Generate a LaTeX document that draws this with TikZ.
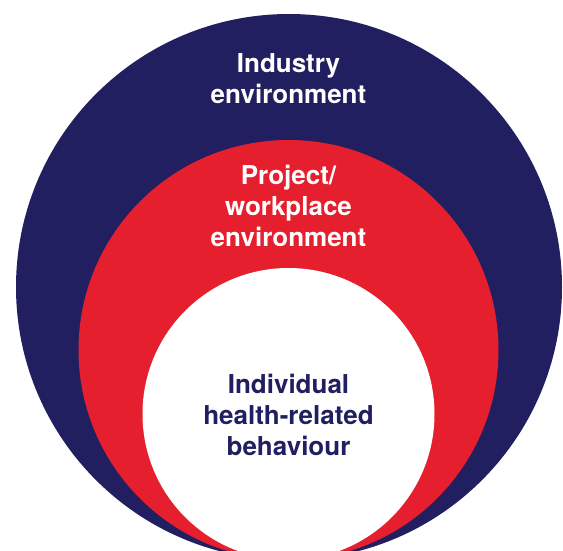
\documentclass[tikz,border=0pt]{standalone}
\usepackage{fontspec}
\setmainfont{TeX Gyre Heros}
\definecolor{ringnavy}{RGB}{34,31,96}
\definecolor{ringred}{RGB}{229,31,45}
\begin{document}
\begin{tikzpicture}[x=1pt,y=-1pt,
  label/.style={font=\fontsize{26}{31}\selectfont\bfseries, align=center,
    inner sep=0pt, anchor=base}]
\useasboundingbox (0,0) rectangle (563,550);
\begin{scope}
  \clip (0,0) rectangle (563,550);
  % three nested circles, all touching at the bottom
  \fill[ringnavy] (289,287) circle[radius=273];
  \fill[ringred] (288.5,350) circle[radius=210];
  \fill[white] (288.5,414) circle[radius=146];
\end{scope}
% each label is anchored on the baseline of its last line
\node[label, text=white] (industry) at (288.5,103) {Industry\\environment};
\node[label, text=white] (project) at (288.5,246) {Project/\\workplace\\environment};
\node[label, text=ringnavy] (individual) at (288.5,455) {Individual\\health-related\\behaviour};
\end{tikzpicture}
\end{document}
